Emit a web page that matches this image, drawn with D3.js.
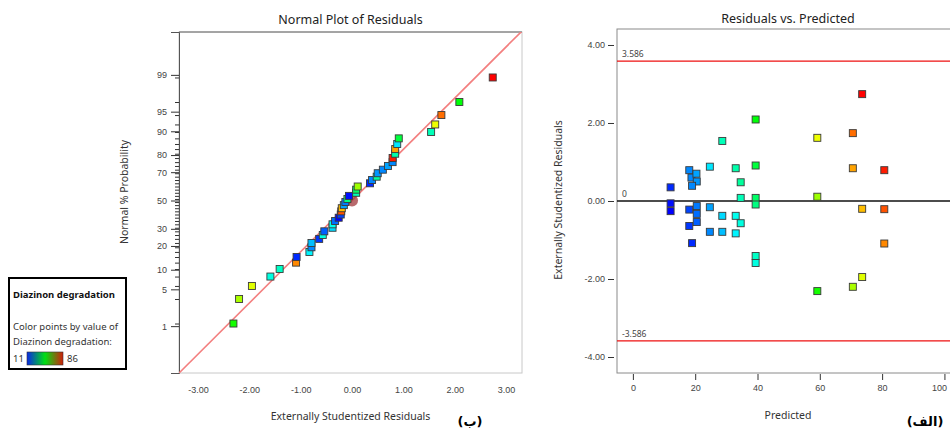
<!DOCTYPE html>
<html>
<head>
<meta charset="utf-8">
<script src="https://cdn.jsdelivr.net/npm/d3@7"></script>
<style>
  body { margin: 0; background: #fff; }
  svg { font-family: "Noto Sans", "Open Sans", sans-serif; }
  .tick text { fill: #444; font-size: 9px; }
  .tick line { stroke: #333; }
</style>
</head>
<body>
<svg id="chart" width="950" height="430"></svg>
<script>
// ---- data ----
var predicted = [12.1, 12.1, 12.1, 18.1, 18.8, 20.4, 20.5, 19.0, 18.1, 20.5, 20.5, 18.1, 20.5, 19.0,
  24.7, 24.7, 24.7, 28.7, 28.7, 28.7, 33.0, 33.0, 33.0, 34.6, 34.6, 34.6,
  39.4, 39.4, 39.4, 39.4, 39.4, 39.4, 59.2, 59.2, 59.2, 70.6, 70.6, 70.6, 73.6, 73.6, 73.6, 80.7, 80.7, 80.7];
var residuals = [0.35, -0.06, -0.26, 0.79, 0.60, 0.70, 0.50, 0.39, -0.22, -0.13, -0.33, -0.64, -0.54, -1.08,
  0.88, -0.16, -0.79, 1.54, -0.38, -0.79, 0.84, -0.38, -0.83, 0.48, 0.08, -0.57,
  2.09, 0.91, 0.08, -0.09, -1.41, -1.59, 1.62, 0.11, -2.31, 1.74, 0.84, -2.20, 2.74, -0.20, -1.95, 0.79, -0.21, -1.09];
var degradation = [14, 12, 11, 21, 21, 23, 22, 21, 16, 20, 19, 15, 18, 14,
  28, 23, 21, 35, 27, 25, 36, 31, 29, 37, 35, 32,
  48, 44, 41, 39, 34, 32, 66, 60, 50, 78, 74, 61, 86, 72, 65, 84, 80, 76];

var probTicks = [1, 5, 10, 20, 30, 50, 70, 80, 90, 95, 99];
var normXTicks = [-3, -2, -1, 0, 1, 2, 3];
var predTicks = [0, 20, 40, 60, 80, 100];
var residTicks = [-4, -2, 0, 2, 4];
var limitValue = 3.586;
var fitSlope = 0.948;
var colorDomain = [11, 29.75, 48.5, 67.25, 86];
var colorRange = ["#0000ff", "#00ffff", "#00ff00", "#ffff00", "#ff0000"];
var legendStops = ["#0a28e6", "#00e014", "#d21e0a"];

// inverse normal cdf (Acklam)
function probit(p) {
  var a = [-3.969683028665376e+01, 2.209460984245205e+02, -2.759285104469687e+02, 1.383577518672690e+02, -3.066479806614716e+01, 2.506628277459239e+00];
  var b = [-5.447609879822406e+01, 1.615858368580409e+02, -1.556989798598866e+02, 6.680131188771972e+01, -1.328068155288572e+01];
  var c = [-7.784894002430293e-03, -3.223964580411365e-01, -2.400758277161838e+00, -2.549732539343734e+00, 4.374664141464968e+00, 2.938163982698783e+00];
  var d = [7.784695709041462e-03, 3.224671290700398e-01, 2.445134137142996e+00, 3.754408661907416e+00];
  var plow = 0.02425, q, r;
  if (p < plow) {
    q = Math.sqrt(-2 * Math.log(p));
    return (((((c[0] * q + c[1]) * q + c[2]) * q + c[3]) * q + c[4]) * q + c[5]) / ((((d[0] * q + d[1]) * q + d[2]) * q + d[3]) * q + 1);
  }
  if (p > 1 - plow) {
    q = Math.sqrt(-2 * Math.log(1 - p));
    return -(((((c[0] * q + c[1]) * q + c[2]) * q + c[3]) * q + c[4]) * q + c[5]) / ((((d[0] * q + d[1]) * q + d[2]) * q + d[3]) * q + 1);
  }
  q = p - 0.5; r = q * q;
  return (((((a[0] * r + a[1]) * r + a[2]) * r + a[3]) * r + a[4]) * r + a[5]) * q / (((((b[0] * r + b[1]) * r + b[2]) * r + b[3]) * r + b[4]) * r + 1);
}

var svg = d3.select("#chart");
var color = d3.scaleLinear().domain(colorDomain).range(colorRange);
var fmt = function(v) { return v.toFixed(2); };
var SQ = 7;

var runs = predicted.map(function(p, i) {
  return { pred: p, res: residuals[i], val: degradation[i] };
});

// ================= left: normal plot =================
var L = { x0: 179, x1: 522, y0: 32, y1: 373 };
var xN = d3.scaleLinear().domain([-3.37, 3.31]).range([L.x0, L.x1]);
var yZ = d3.scaleLinear().domain([-3.194, 3.12]).range([L.y1, L.y0]);

var sorted = runs.slice().sort(function(a, b) { return a.res - b.res; });
sorted.forEach(function(d, i) { d.z = probit((i + 0.5) / sorted.length); });

var gL = svg.append("g");
gL.append("text").attr("x", (L.x0 + L.x1) / 2).attr("y", 24).attr("text-anchor", "middle")
  .attr("font-size", 12.5).attr("fill", "#222").text("Normal Plot of Residuals");

gL.append("rect").attr("x", L.x0).attr("y", L.y0).attr("width", L.x1 - L.x0).attr("height", L.y1 - L.y0)
  .attr("fill", "none").attr("stroke", "#c8c8c8");
gL.append("line").attr("x1", L.x0).attr("x2", L.x1).attr("y1", L.y0).attr("y2", L.y0).attr("stroke", "#666");

// minor ticks at each run's probability, major labelled ticks
gL.append("g").attr("transform", "translate(" + L.x0 + ",0)")
  .call(d3.axisLeft(yZ).tickValues(sorted.map(function(d) { return d.z; })).tickSize(4).tickFormat(""))
  .call(function(g) { g.select(".domain").remove(); });
gL.append("g").attr("transform", "translate(" + L.x0 + ",0)")
  .call(d3.axisLeft(yZ).tickValues(probTicks.map(function(p) { return probit(p / 100); }))
    .tickSize(8).tickPadding(4).tickFormat(function(d, i) { return probTicks[i]; }))
  .call(function(g) { g.select(".domain").attr("stroke", "#555"); });

gL.append("g").attr("transform", "translate(0," + L.y1 + ")")
  .call(d3.axisBottom(xN).tickValues(normXTicks).tickSize(0).tickPadding(14).tickFormat(fmt))
  .call(function(g) { g.select(".domain").remove(); });

gL.append("text").attr("x", (L.x0 + L.x1) / 2).attr("y", 420).attr("text-anchor", "middle")
  .attr("font-size", 10.5).attr("fill", "#333").text("Externally Studentized Residuals");
gL.append("text").attr("transform", "translate(128,192) rotate(-90)").attr("text-anchor", "middle")
  .attr("font-size", 10.5).attr("fill", "#333").text("Normal % Probability");

gL.append("clipPath").attr("id", "clipL").append("rect")
  .attr("x", L.x0).attr("y", L.y0).attr("width", L.x1 - L.x0).attr("height", L.y1 - L.y0);
gL.append("line").attr("clip-path", "url(#clipL)")
  .attr("x1", xN(-3.37)).attr("y1", yZ(-3.37 * fitSlope))
  .attr("x2", xN(3.31)).attr("y2", yZ(3.31 * fitSlope))
  .attr("stroke", "#f37f7f").attr("stroke-width", 1.6);

gL.append("circle").attr("cx", xN(0)).attr("cy", yZ(probit(0.5))).attr("r", 6)
  .attr("fill", "#a0383c").attr("fill-opacity", 0.75);

gL.selectAll("rect.pt").data(sorted).join("rect").attr("class", "pt")
  .attr("x", function(d) { return xN(d.res) - SQ / 2; })
  .attr("y", function(d) { return yZ(d.z) - SQ / 2; })
  .attr("width", SQ).attr("height", SQ)
  .attr("fill", function(d) { return color(d.val); })
  .attr("stroke", "#3a3a3a").attr("stroke-width", 0.9);

gL.append("text").attr("x", 470).attr("y", 426).attr("text-anchor", "middle")
  .attr("font-size", 13).attr("font-weight", "bold").attr("font-family", "DejaVu Sans").text("(ب)");

// ================= legend =================
var lg = svg.append("g");
lg.append("rect").attr("x", 9).attr("y", 278).attr("width", 117).attr("height", 91)
  .attr("fill", "#fff").attr("stroke", "#000").attr("stroke-width", 2);
lg.append("text").attr("x", 13).attr("y", 298).attr("font-size", 9.5).attr("font-weight", "bold")
  .attr("fill", "#111").text("Diazinon degradation");
lg.append("text").attr("x", 13).attr("y", 330).attr("font-size", 9.5).attr("fill", "#333").text("Color points by value of");
lg.append("text").attr("x", 13).attr("y", 345).attr("font-size", 9.5).attr("fill", "#333").text("Diazinon degradation:");
lg.append("text").attr("x", 13).attr("y", 362).attr("font-size", 9.5).attr("fill", "#333").text(colorDomain[0]);
lg.append("text").attr("x", 67).attr("y", 362).attr("font-size", 9.5).attr("fill", "#333").text(colorDomain[4]);
var grad = svg.append("defs").append("linearGradient").attr("id", "grad");
legendStops.forEach(function(c, i) {
  grad.append("stop").attr("offset", i / (legendStops.length - 1)).attr("stop-color", c);
});
lg.append("rect").attr("x", 27).attr("y", 352).attr("width", 36).attr("height", 13)
  .attr("fill", "url(#grad)").attr("stroke", "#333").attr("stroke-width", 0.6);

// ================= right: residuals vs predicted =================
var R = { x0: 617, x1: 960, y0: 29, y1: 373 };
var xP = d3.scaleLinear().domain([-5.1, 105]).range([R.x0, R.x1]);
var yR = d3.scaleLinear().domain([-4.41, 4.41]).range([R.y1, R.y0]);

var gR = svg.append("g");
gR.append("text").attr("x", 788).attr("y", 23).attr("text-anchor", "middle")
  .attr("font-size", 12.5).attr("fill", "#222").text("Residuals vs. Predicted");

gR.append("rect").attr("x", R.x0).attr("y", R.y0).attr("width", R.x1 - R.x0).attr("height", R.y1 - R.y0)
  .attr("fill", "none").attr("stroke", "#8a8a8a");

gR.append("g").attr("transform", "translate(" + (R.x0 - 3) + ",0)")
  .call(d3.axisLeft(yR).tickValues(residTicks).tickSize(6).tickPadding(3).tickFormat(fmt))
  .call(function(g) { g.select(".domain").remove(); });
gR.append("g").attr("transform", "translate(0," + (R.y1 + 1) + ")")
  .call(d3.axisBottom(xP).tickValues(predTicks).tickSize(6).tickPadding(5))
  .call(function(g) {
    g.select(".domain").remove();
    // keep the last label inside the window
    g.selectAll(".tick text").filter(function(d) { return d === 100; })
      .attr("text-anchor", "end").attr("dx", 2);
  });

gR.append("text").attr("x", 788).attr("y", 419).attr("text-anchor", "middle")
  .attr("font-size", 10.5).attr("fill", "#333").text("Predicted");
gR.append("text").attr("transform", "translate(562,200) rotate(-90)").attr("text-anchor", "middle")
  .attr("font-size", 10.5).attr("fill", "#333").text("Externally Studentized Residuals");

[limitValue, -limitValue].forEach(function(v) {
  gR.append("line").attr("x1", R.x0).attr("x2", R.x1).attr("y1", yR(v)).attr("y2", yR(v))
    .attr("stroke", "#ee1111").attr("stroke-width", 1.3);
  gR.append("text").attr("x", R.x0 + 5).attr("y", yR(v) - 4).attr("font-size", 8.5).attr("fill", "#444")
    .text(v < 0 ? "-" + limitValue : limitValue);
});
gR.append("line").attr("x1", R.x0).attr("x2", R.x1).attr("y1", yR(0)).attr("y2", yR(0))
  .attr("stroke", "#111").attr("stroke-width", 1.3);
gR.append("text").attr("x", R.x0 + 5).attr("y", yR(0) - 4).attr("font-size", 8.5).attr("fill", "#444").text("0");

gR.selectAll("rect.pt").data(runs).join("rect").attr("class", "pt")
  .attr("x", function(d) { return xP(d.pred) - SQ / 2; })
  .attr("y", function(d) { return yR(d.res) - SQ / 2; })
  .attr("width", SQ).attr("height", SQ)
  .attr("fill", function(d) { return color(d.val); })
  .attr("stroke", "#3a3a3a").attr("stroke-width", 0.9);

gR.append("text").attr("x", 925).attr("y", 426).attr("text-anchor", "middle")
  .attr("font-size", 13).attr("font-weight", "bold").attr("font-family", "DejaVu Sans").text("(الف)");
</script>
</body>
</html>
